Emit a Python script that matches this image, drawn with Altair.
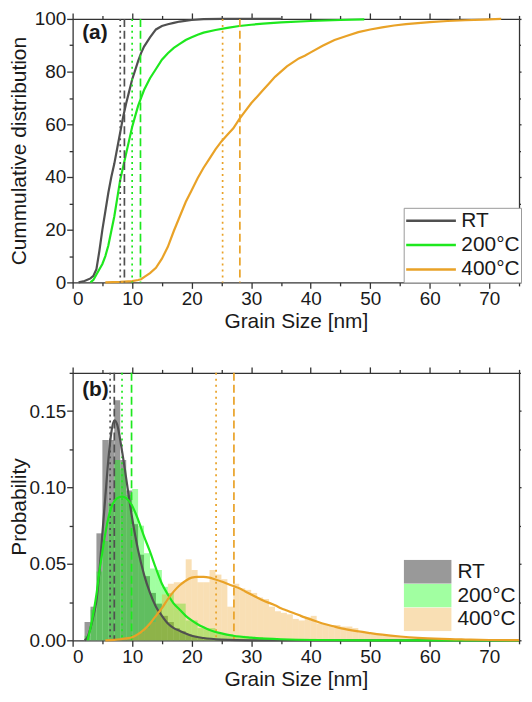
import altair as alt
import pandas as pd

FONT = "Liberation Sans"
TXT = "#1a1a1a"
AX = "#333333"

SERIES = ["RT", "200°C", "400°C"]
LINE_COLORS = ["#505050", "#1ee81e", "#e9a227"]
FILL_COLORS = ["#999999", "#00ff00", "#ec9e1c"]
FILL_OPACITY = [1.0, 0.37, 0.33]

# ---------------- Panel (a): cumulative distributions ----------------
rt_cum_x = [1.0, 2.0, 3.0, 3.5, 4.0, 4.5, 5.0, 5.5, 6.0, 6.5, 7.0, 7.5, 8.0, 8.5, 9.0, 9.5,
            10.0, 10.5, 11.0, 11.5, 12.0, 13.0, 14.0, 15.0, 16.0, 17.0, 18.0, 20.0, 22.0, 25.0, 35.0]
rt_cum_y = [0.0, 0.5, 1.5, 2.5, 5.0, 12.0, 20.0, 27.0, 34.0, 40.0, 45.0, 51.0, 57.0, 63.0, 68.0, 72.5,
            77.0, 80.5, 84.0, 87.0, 89.5, 93.0, 96.0, 97.3, 98.0, 98.5, 99.0, 99.6, 99.9, 100.0, 100.0]

g200_cum_x = [3.0, 3.5, 4.0, 4.5, 5.0, 5.5, 6.0, 6.5, 7.0, 7.5, 8.0, 8.5, 9.0, 9.5, 10.0, 10.5,
              11.0, 11.5, 12.0, 13.0, 14.0, 15.0, 16.0, 17.0, 18.0, 19.0, 20.0, 21.0, 22.0, 24.0,
              26.0, 28.0, 30.0, 32.0, 35.0, 40.0, 45.0, 49.0]
g200_cum_y = [0.0, 1.0, 3.0, 5.0, 7.0, 10.0, 14.0, 19.5, 25.0, 32.0, 39.0, 44.0, 49.0, 54.0, 59.0, 63.0,
              67.0, 70.0, 73.0, 77.5, 81.0, 84.5, 87.0, 89.0, 90.5, 92.0, 93.0, 94.0, 94.8, 95.8,
              96.6, 97.3, 97.8, 98.2, 98.7, 99.2, 99.6, 99.8]

g400_cum_x = [5.5, 8.0, 10.0, 11.0, 11.5, 12.0, 13.0, 14.0, 15.0, 16.0, 17.0, 18.0, 19.0, 20.0,
              21.0, 22.0, 23.0, 24.0, 25.0, 26.0, 27.0, 28.0, 29.0, 30.0, 31.0, 32.0, 33.0, 34.0,
              35.0, 36.0, 37.0, 38.0, 39.0, 40.0, 42.0, 44.0, 46.0, 48.0, 50.0, 52.0, 54.0, 56.0,
              58.0, 60.0, 63.0, 66.0, 69.0, 72.0]
g400_cum_y = [0.0, 0.2, 0.5, 0.9, 1.2, 2.0, 3.5, 5.5, 9.0, 13.5, 19.5, 25.0, 30.5, 35.0,
              39.5, 43.5, 47.0, 50.5, 53.5, 56.0, 58.5, 62.0, 65.0, 68.0, 70.5, 73.0, 75.5, 78.0,
              80.0, 82.0, 83.5, 85.0, 86.0, 87.3, 89.8, 92.0, 93.5, 95.0, 96.0, 96.8, 97.5, 98.0,
              98.4, 98.8, 99.2, 99.5, 99.7, 100.0]

# vertical markers, panel (a)
a_dotted = [8.0, 10.0, 25.2]
a_dashed = [8.7, 11.4, 28.1]

# ---------------- Panel (b): histograms + fits ----------------
rt_hist_start = list(range(2, 24))
rt_hist_prob = [0.012, 0.022, 0.070, 0.131, 0.131, 0.157, 0.118, 0.098, 0.076, 0.056, 0.042,
                0.031, 0.024, 0.016, 0.012, 0.008, 0.006, 0.004, 0.003, 0.002, 0.001, 0.001]

g200_hist_start = list(range(2, 41))
g200_hist_prob = [0.003, 0.020, 0.045, 0.065, 0.090, 0.118, 0.112, 0.095, 0.099, 0.075, 0.057,
                  0.047, 0.046, 0.035, 0.031, 0.024, 0.024, 0.013, 0.013, 0.008, 0.008, 0.008,
                  0.005, 0.004, 0.004, 0.003, 0.003, 0.002, 0.002, 0.002, 0.001, 0.001, 0.001,
                  0.001, 0.001, 0.001, 0.001, 0.001, 0.001]

g400_hist_start = list(range(6, 75))
g400_hist_prob = [0.0005, 0.001, 0.001, 0.002, 0.003, 0.005, 0.008, 0.012, 0.020, 0.030, 0.037,
                  0.038, 0.038, 0.053, 0.046, 0.038, 0.038, 0.046, 0.043, 0.040, 0.022, 0.037,
                  0.034, 0.033, 0.031, 0.028, 0.027, 0.022, 0.019, 0.018, 0.017, 0.014, 0.013,
                  0.015, 0.016, 0.011, 0.0105, 0.010, 0.010, 0.009, 0.009, 0.008, 0.005, 0.005,
                  0.004, 0.004, 0.003, 0.003, 0.003, 0.002, 0.002, 0.002, 0.0015, 0.0015, 0.001,
                  0.001, 0.001, 0.001, 0.0008, 0.0008, 0.0008, 0.0006, 0.0006, 0.0005, 0.0005,
                  0.0004, 0.0004, 0.0003, 0.0003]

rt_fit_x = [2.0, 2.5, 3.0, 3.5, 4.0, 4.5, 5.0, 5.5, 6.0, 6.5, 7.0, 7.5, 8.0, 8.5, 9.0, 10.0,
            11.0, 12.0, 13.0, 14.0, 15.0, 16.0, 17.0, 18.0, 19.0, 20.0, 22.0, 25.0, 30.0, 75.0]
rt_fit_y = [0.0, 0.002, 0.008, 0.016, 0.026, 0.045, 0.070, 0.094, 0.118, 0.136, 0.144, 0.141,
            0.131, 0.119, 0.106, 0.080, 0.059, 0.043, 0.031, 0.022, 0.016, 0.011, 0.008, 0.0062,
            0.0045, 0.003, 0.0015, 0.0005, 0.0, 0.0]

g200_fit_x = [2.5, 3.0, 3.5, 4.0, 4.5, 5.0, 5.5, 6.0, 6.5, 7.0, 7.5, 8.3, 9.0, 10.0, 11.0, 12.0,
              13.0, 14.0, 15.0, 16.0, 17.0, 18.0, 19.0, 20.0, 21.0, 22.0, 23.0, 25.0, 27.0, 30.0,
              35.0, 40.0, 50.0, 75.0]
g200_fit_y = [0.0, 0.008, 0.018, 0.030, 0.045, 0.058, 0.070, 0.080, 0.087, 0.091, 0.093, 0.094,
              0.093, 0.088, 0.079, 0.068, 0.058, 0.047, 0.037, 0.030, 0.024, 0.020, 0.016, 0.013,
              0.0105, 0.0085, 0.0068, 0.0045, 0.003, 0.0018, 0.0007, 0.0002, 0.0, 0.0]

g400_fit_x = [5.5, 7.0, 8.0, 9.0, 10.0, 11.0, 12.0, 13.0, 14.0, 15.0, 16.0, 17.0, 18.0, 19.0,
              20.0, 21.0, 22.0, 23.0, 24.0, 25.0, 26.0, 27.0, 28.0, 29.0, 30.0, 31.0, 32.0, 33.0,
              34.0, 35.0, 36.0, 37.0, 38.0, 39.0, 40.0, 42.0, 44.0, 46.0, 48.0, 50.0, 52.0, 55.0,
              58.0, 62.0, 66.0, 70.0, 75.0]
g400_fit_y = [0.0, 0.0003, 0.0007, 0.0013, 0.002, 0.004, 0.007, 0.011, 0.016, 0.021, 0.027, 0.032,
              0.036, 0.039, 0.041, 0.0415, 0.0415, 0.041, 0.0398, 0.0385, 0.037, 0.0355, 0.034,
              0.032, 0.030, 0.028, 0.026, 0.0245, 0.023, 0.021, 0.0195, 0.018, 0.0165, 0.015,
              0.0137, 0.011, 0.009, 0.0072, 0.0058, 0.0047, 0.0037, 0.0025, 0.0016, 0.0009,
              0.0005, 0.0002, 0.0001]

# vertical markers, panel (b)
b_dotted = [6.3, 8.3, 24.1]
b_dashed = [7.0, 9.9, 27.1]

# ---------------- data tables ----------------
def series_table(pairs, xname, yname):
    rows = []
    for s, xs_, ys_ in pairs:
        for xv, yv in zip(xs_, ys_):
            rows.append({"series": s, xname: xv, yname: yv})
    return pd.DataFrame(rows)

cum_df = series_table([(SERIES[0], rt_cum_x, rt_cum_y),
                       (SERIES[1], g200_cum_x, g200_cum_y),
                       (SERIES[2], g400_cum_x, g400_cum_y)], "size", "cum")

fit_df = series_table([(SERIES[0], rt_fit_x, rt_fit_y),
                       (SERIES[1], g200_fit_x, g200_fit_y),
                       (SERIES[2], g400_fit_x, g400_fit_y)], "size", "prob")

hist_rows = []
for s, starts, probs in [(SERIES[0], rt_hist_start, rt_hist_prob),
                         (SERIES[1], g200_hist_start, g200_hist_prob),
                         (SERIES[2], g400_hist_start, g400_hist_prob)]:
    for st, p in zip(starts, probs):
        hist_rows.append({"series": s, "start": st, "end": st + 1, "prob": p})
hist_df = pd.DataFrame(hist_rows)

def marker_table(dotted, dashed):
    rows = []
    for s, v in zip(SERIES, dotted):
        rows.append({"series": s, "size": v, "kind": "dotted"})
    for s, v in zip(SERIES, dashed):
        rows.append({"series": s, "size": v, "kind": "dashed"})
    return pd.DataFrame(rows)

mark_a = marker_table(a_dotted, a_dashed)
mark_b = marker_table(b_dotted, b_dashed)

lab_a = pd.DataFrame({"label": ["(a)"], "size": [1.6], "val": [94.8]})
lab_b = pd.DataFrame({"label": ["(b)"], "size": [1.6], "val": [0.164]})

# ---------------- scales & axes ----------------
W, H_A, H_B = 449, 265, 269
xscale = alt.Scale(domain=[0, 75], nice=False, zero=False)
ya_scale = alt.Scale(domain=[0, 100], nice=False)
yb_scale = alt.Scale(domain=[0, 0.175], nice=False)
stroke_scale = alt.Scale(domain=SERIES, range=LINE_COLORS)
dash_scale = alt.Scale(domain=["dotted", "dashed"], range=[[2, 4], [8, 4]])

X_TICKS = list(range(0, 80, 5))
XMAJ = "datum.value % 10 === 0"
YA_TICKS = list(range(0, 101, 10))
YAMAJ = "datum.value % 20 === 0"
YB_TICKS = [0.0, 0.025, 0.05, 0.075, 0.1, 0.125, 0.15, 0.175]
YBMAJ = "abs(datum.value * 20 - round(datum.value * 20)) < 0.000001"

def tsize(test, big, small):
    return {"condition": {"test": test, "value": big}, "value": small}

common = dict(grid=False, domainColor=AX, tickColor=AX, domainWidth=1.3, tickWidth=1.3,
              labelFont=FONT, labelFontSize=19, labelColor=TXT,
              titleFont=FONT, titleFontSize=21, titleColor=TXT, titleFontWeight="normal")

x_bottom = alt.Axis(orient="bottom", values=X_TICKS, labelExpr=f"{XMAJ} ? datum.label : ''",
                    tickSize=tsize(XMAJ, 6, 3.5), labelPadding=1, labelOverlap=False,
                    title="Grain Size [nm]", titlePadding=2, **common)
x_top = alt.Axis(orient="top", values=X_TICKS, labels=False, tickSize=tsize(XMAJ, 6, 3.5),
                 title=None, **common)

ya_left = alt.Axis(orient="left", values=YA_TICKS, labelExpr=f"{YAMAJ} ? datum.label : ''",
                   tickSize=tsize(YAMAJ, 6, 3.5), labelPadding=1, labelOverlap=False,
                   title="Cummulative distribution", titleX=-43, **common)
ya_right = alt.Axis(orient="right", values=YA_TICKS, labels=False, tickSize=tsize(YAMAJ, 2, 1.5),
                    title=None, **common)

yb_left = alt.Axis(orient="left", values=YB_TICKS, format=".2f",
                   labelExpr=f"{YBMAJ} ? datum.label : ''",
                   tickSize=tsize(YBMAJ, 6, 3.5), labelPadding=1, labelOverlap=False,
                   title="Probability", titleX=-43, **common)
yb_right = alt.Axis(orient="right", values=YB_TICKS, labels=False, tickSize=tsize(YBMAJ, 2, 1.5),
                    title=None, **common)

# ---------------- panel (a) ----------------
legend_a = alt.Legend(title=None, orient="none", legendX=333, legendY=190,
                      symbolType="stroke", symbolSize=2500, symbolStrokeWidth=2.5,
                      labelFont=FONT, labelFontSize=21, labelColor=TXT, labelOffset=4,
                      rowPadding=0.5, padding=1, clipHeight=24,
                      strokeColor="#9a9a9a", fillColor="white")

lines_a = alt.Chart(cum_df).mark_line(strokeWidth=2.2).encode(
    x=alt.X("size:Q", scale=xscale, axis=x_bottom),
    y=alt.Y("cum:Q", scale=ya_scale, axis=ya_left),
    stroke=alt.Stroke("series:N", scale=stroke_scale, legend=legend_a, sort=SERIES),
)
rules_a = alt.Chart(mark_a).mark_rule(strokeWidth=1.7).encode(
    x=alt.X("size:Q", scale=xscale, axis=x_top),
    stroke=alt.Stroke("series:N", scale=stroke_scale, legend=legend_a, sort=SERIES),
    strokeDash=alt.StrokeDash("kind:N", scale=dash_scale, legend=None),
)
text_a = alt.Chart(lab_a).mark_text(align="left", baseline="middle", font=FONT,
                                    fontSize=21, fontWeight="bold", color=TXT).encode(
    x=alt.X("size:Q", scale=xscale, axis=None),
    y=alt.Y("val:Q", scale=ya_scale, axis=ya_right),
    text="label:N",
)
panel_a = alt.layer(lines_a, rules_a, text_a).properties(width=W, height=H_A)

# ---------------- panel (b) ----------------
RECT_PATH = "M-1,-0.5H1V0.5H-1Z"
legend_b = alt.Legend(title=None, orient="none", legendX=333, legendY=188,
                      symbolType=RECT_PATH, symbolSize=2304, symbolStrokeWidth=0,
                      labelFont=FONT, labelFontSize=21, labelColor=TXT, labelOffset=6,
                      rowPadding=0, padding=0, clipHeight=24)

bars_b = alt.Chart(hist_df).mark_rect().encode(
    x=alt.X("start:Q", scale=xscale, axis=None),
    x2="end:Q",
    y=alt.Y("prob:Q", scale=yb_scale, axis=None),
    y2=alt.datum(0),
    fill=alt.Fill("series:N", scale=alt.Scale(domain=SERIES, range=FILL_COLORS),
                  legend=legend_b, sort=SERIES),
    opacity=alt.Opacity("series:N",
                        scale=alt.Scale(type="ordinal", domain=SERIES, range=FILL_OPACITY),
                        legend=legend_b, sort=SERIES),
)
rules_b = alt.Chart(mark_b).mark_rule(strokeWidth=1.7).encode(
    x=alt.X("size:Q", scale=xscale, axis=x_top),
    stroke=alt.Stroke("series:N", scale=stroke_scale, legend=None),
    strokeDash=alt.StrokeDash("kind:N", scale=dash_scale, legend=None),
)
lines_b = alt.Chart(fit_df).mark_line(strokeWidth=2.2, interpolate="monotone").encode(
    x=alt.X("size:Q", scale=xscale, axis=x_bottom),
    y=alt.Y("prob:Q", scale=yb_scale, axis=yb_left),
    stroke=alt.Stroke("series:N", scale=stroke_scale, legend=None),
)
text_b = alt.Chart(lab_b).mark_text(align="left", baseline="middle", font=FONT,
                                    fontSize=21, fontWeight="bold", color=TXT).encode(
    x=alt.X("size:Q", scale=xscale, axis=None),
    y=alt.Y("val:Q", scale=yb_scale, axis=yb_right),
    text="label:N",
)
panel_b = alt.layer(bars_b, rules_b, lines_b, text_b).properties(width=W, height=H_B)

chart = alt.vconcat(panel_a, panel_b, spacing=33).resolve_scale(
    x="independent", y="independent", stroke="independent", fill="independent",
    opacity="independent", strokeDash="independent",
).properties(padding={"left": 0, "top": 0, "right": 0, "bottom": 0}).configure_view(stroke=None)

chart.save("out.html", embed_options={"renderer": "svg", "actions": False})
